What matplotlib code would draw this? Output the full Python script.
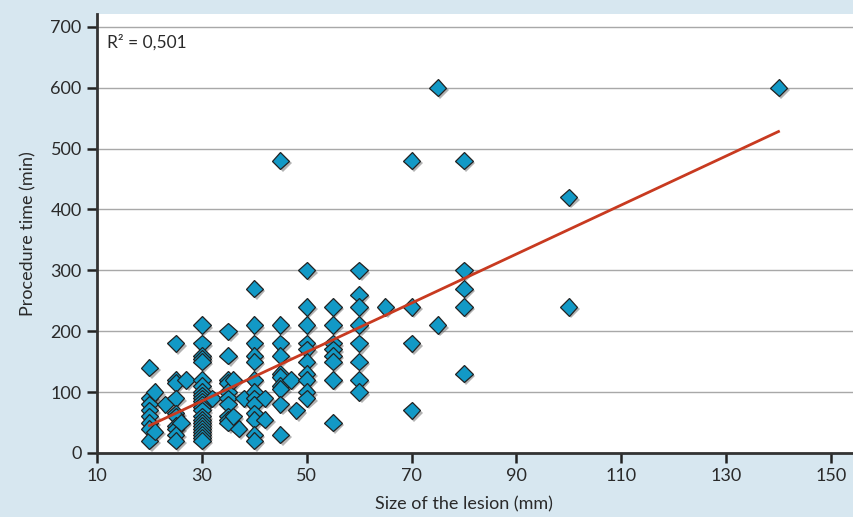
import matplotlib.pyplot as plt
import matplotlib.patheffects as pe

# lesion size (mm) and procedure time (min)
lesion_size = ([20] * 8 + [21] * 2 + [23] + [25] * 10 + [26] + [27]
               + [30] * 23 + [32] + [35] * 10 + [36] * 2 + [37] + [38]
               + [40] * 13 + [42] * 2 + [45] * 10 + [47] + [48]
               + [50] * 10 + [55] * 8 + [60] * 8 + [65] + [70] * 4
               + [75] * 2 + [80] * 5 + [100] * 2 + [140])
proc_time = ([140, 90, 80, 70, 60, 50, 40, 20]
             + [100, 35]
             + [80]
             + [180, 120, 115, 90, 65, 60, 45, 40, 30, 20]
             + [50]
             + [120]
             + [210, 180, 160, 155, 150, 120, 110, 100, 95, 90, 85, 80,
                75, 70, 60, 55, 50, 45, 40, 35, 30, 25, 20]
             + [90]
             + [200, 160, 120, 115, 100, 90, 80, 60, 55, 50]
             + [120, 60]
             + [40]
             + [90]
             + [270, 210, 180, 160, 150, 120, 100, 90, 80, 65, 55, 30, 20]
             + [90, 55]
             + [480, 210, 180, 160, 130, 125, 110, 105, 80, 30]
             + [120]
             + [70]
             + [300, 240, 210, 180, 170, 150, 130, 120, 100, 90]
             + [240, 210, 180, 170, 160, 150, 120, 50]
             + [300, 260, 240, 210, 180, 150, 120, 100]
             + [240]
             + [480, 240, 180, 70]
             + [600, 210]
             + [480, 300, 270, 240, 130]
             + [420, 240]
             + [600])

# trend line end points as drawn
fit_x = [20, 140]
fit_y = [45, 528]

x_ticks = [10, 30, 50, 70, 90, 110, 130, 150]
y_ticks = [0, 100, 200, 300, 400, 500, 600, 700]

plt.rcParams['font.family'] = ['Lato', 'DejaVu Sans']

fig = plt.figure(figsize=(8.54, 5.17), dpi=100, facecolor='#d7e7f0')
ax = fig.add_axes([0.1136, 0.1238, 0.8864, 0.8491])
ax.set_facecolor('white')

ax.set_yticks(y_ticks)
ax.yaxis.grid(True, color='#a8a8a8', lw=1)
ax.set_axisbelow(True)

ax.plot(lesion_size, proc_time, ls='none', marker='D', ms=8.8,
        mfc='#1299c6', mec='#222222', mew=0.9, zorder=3,
        path_effects=[pe.SimplePatchShadow(offset=(1.8, -1.8), shadow_rgbFace='#555555', alpha=0.45),
                      pe.Normal()])
ax.plot(fit_x, fit_y, color='#c83a20', lw=2, zorder=4)

ax.set_xlim(10, 154.4)
ax.set_ylim(0, 721)
ax.set_xticks(x_ticks)

for s in ['top', 'right']:
    ax.spines[s].set_visible(False)
for s in ['left', 'bottom']:
    ax.spines[s].set_color('#333333')
    ax.spines[s].set_linewidth(2)
ax.tick_params(direction='out', length=7, width=1.8, color='#222222',
               labelsize=13, labelcolor='#2a2a2a', pad=4)

ax.set_xlabel('Size of the lesion (mm)', fontsize=13, color='#2a2a2a', labelpad=9)
ax.xaxis.set_label_coords(0.485, -0.098)
ax.set_ylabel('Procedure time (min)', fontsize=13, color='#2a2a2a', labelpad=10)

ax.text(0.013, 0.953, 'R² = 0,501', transform=ax.transAxes, fontsize=12.5,
        color='#2a2a2a', va='top', ha='left')

fig.savefig('out.png', dpi=100, facecolor=fig.get_facecolor())
